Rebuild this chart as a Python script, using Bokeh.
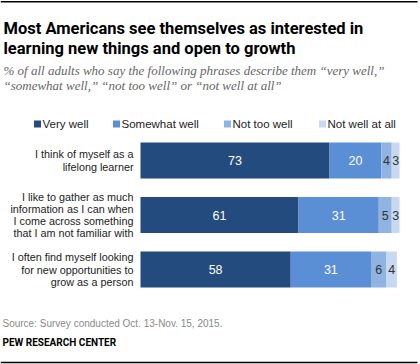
from bokeh.plotting import figure
from bokeh.models import Range1d, Label, ColumnDataSource
from bokeh.core.properties import value
from bokeh.embed import file_html
from bokeh.resources import INLINE

# ---- data ----
categories = [
    ["I think of myself as a", "lifelong learner"],
    ["I like to gather as much", "information as I can when",
     "I come across something", "that I am not familiar with"],
    ["I often find myself looking", "for new opportunities to", "grow as a person"],
]
series_names = ["Very well", "Somewhat well", "Not too well", "Not well at all"]
very_well = [73, 61, 58]
somewhat_well = [20, 31, 31]
not_too_well = [4, 5, 6]
not_well_at_all = [3, 3, 4]
title_lines = ["Most Americans see themselves as interested in",
               "learning new things and open to growth"]
subtitle_lines = ["% of all adults who say the following phrases describe them \u201cvery well,\u201d",
                  "\u201csomewhat well,\u201d \u201cnot too well\u201d or \u201cnot well at all\u201d"]
source_text = "Source: Survey conducted Oct. 13-Nov. 15, 2015."
brand_text = "PEW RESEARCH CENTER"

# ---- style / layout ----
colors = ["#234B7D", "#5A8FD5", "#8FB4E2", "#C7D9F0"]
label_colors = ["white", "white", "#333333", "#333333"]
W, H = 420, 364
PX = 2.59          # pixels per percentage point
X0 = 140           # pixel position of 0%
SANS = "Liberation Sans"

def px2x(px):
    return (px - X0) / PX

p = figure(width=W, height=H, output_backend="svg", toolbar_location=None,
           x_range=Range1d(px2x(0), px2x(W)), y_range=Range1d(H, 0),
           min_border=0, min_border_left=0, min_border_right=0,
           min_border_top=0, min_border_bottom=0)
p.axis.visible = False
p.grid.visible = False
p.outline_line_color = None
p.background_fill_color = "white"

bar_y = [160 + i * 54.5 for i in range(len(very_well))]
series = [very_well, somewhat_well, not_too_well, not_well_at_all]
left = [0] * len(very_well)
for k, vals in enumerate(series):
    right = [l + v for l, v in zip(left, vals)]
    src = ColumnDataSource(dict(y=bar_y, left=left, right=right,
                                mid=[(l + r) / 2 for l, r in zip(left, right)],
                                txt=[str(v) for v in vals]))
    p.hbar(y="y", left="left", right="right", height=36, source=src,
           fill_color=colors[k], line_color=None)
    p.text(x="mid", y="y", text="txt", source=src, text_align="center",
           text_baseline="middle", text_color=label_colors[k],
           text_font=value(SANS), text_font_size="12.5px")
    left = right

# category labels
for i, lines in enumerate(categories):
    n = len(lines)
    for j, line in enumerate(lines):
        yy = bar_y[i] + (j - (n - 1) / 2) * 12.3
        p.add_layout(Label(x=133, y=yy, x_units="screen", y_units="data", text=line,
                           text_align="right", text_baseline="middle",
                           text_font=SANS, text_font_size="10.8px", text_color="#222222"))

# legend
legend_px = [34, 113, 224, 319]
for k, name in enumerate(series_names):
    p.scatter(x=[px2x(legend_px[k] + 3)], y=[123.5], marker="square", size=7,
              fill_color=colors[k], line_color=None)
    p.add_layout(Label(x=legend_px[k] + 8, y=123.5, x_units="screen", y_units="data",
                       text=name, text_align="left", text_baseline="middle",
                       text_font=SANS, text_font_size="11.5px", text_color="#222222"))

# title
for j, t in enumerate(title_lines):
    p.add_layout(Label(x=3, y=27.5 + j * 20, x_units="screen", y_units="data", text=t,
                       text_align="left", text_baseline="alphabetic",
                       text_font="Roboto", text_font_style="bold",
                       text_font_size="16.5px", text_color="#000000"))
for j, t in enumerate(subtitle_lines):
    p.add_layout(Label(x=3, y=69.5 + j * 15, x_units="screen", y_units="data", text=t,
                       text_align="left", text_baseline="alphabetic",
                       text_font="Liberation Serif", text_font_style="italic",
                       text_font_size="13px", text_color="#666666"))

p.add_layout(Label(x=2, y=323, x_units="screen", y_units="data", text=source_text,
                   text_align="left", text_baseline="middle",
                   text_font=SANS, text_font_size="10px", text_color="#8a8a8a"))
p.add_layout(Label(x=2, y=342, x_units="screen", y_units="data", text=brand_text,
                   text_align="left", text_baseline="middle",
                   text_font="Roboto", text_font_style="bold",
                   text_font_size="10px", text_color="#000000"))

# rules at top and bottom
p.segment(x0=[px2x(0), px2x(0)], y0=[1.2, 362], x1=[px2x(417), px2x(417)], y1=[1.2, 362],
          line_color="black", line_width=1.5)

open("out.html", "w").write(file_html(p, INLINE))
